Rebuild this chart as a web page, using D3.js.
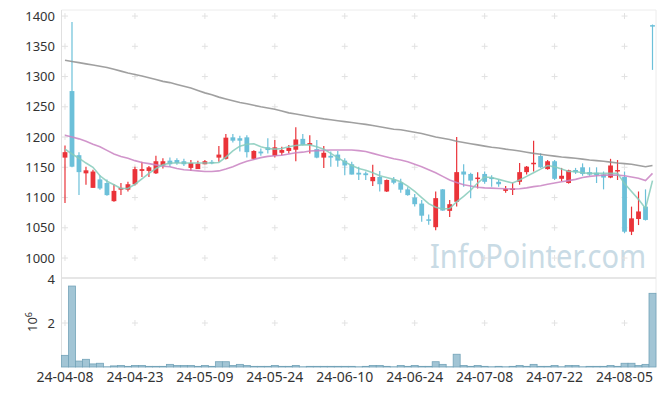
<!DOCTYPE html>
<html>
<head>
    <meta charset="utf-8">
    <title></title>
    <style type="text/css">
        html, body { margin: 0; padding: 0; background: #fff; }
        text { font-family: "Noto Sans", sans-serif; }
    </style>
</head>
<body>
<svg id="svg" width="665" height="396"></svg>

<script src="https://cdn.jsdelivr.net/npm/d3@7"></script>
<script type="text/javascript">
    var dates = ('24-04-08 24-04-09 24-04-11 24-04-12 24-04-15 24-04-16 24-04-17 24-04-18 24-04-19 24-04-22 ' +
        '24-04-23 24-04-24 24-04-25 24-04-26 24-04-29 24-04-30 24-05-02 24-05-03 24-05-07 24-05-08 ' +
        '24-05-09 24-05-10 24-05-13 24-05-14 24-05-16 24-05-17 24-05-20 24-05-21 24-05-22 24-05-23 ' +
        '24-05-24 24-05-27 24-05-28 24-05-29 24-05-30 24-05-31 24-06-03 24-06-04 24-06-05 24-06-07 ' +
        '24-06-10 24-06-11 24-06-12 24-06-13 24-06-14 24-06-17 24-06-18 24-06-19 24-06-20 24-06-21 ' +
        '24-06-24 24-06-25 24-06-26 24-06-27 24-06-28 24-07-01 24-07-02 24-07-03 24-07-04 24-07-05 ' +
        '24-07-08 24-07-09 24-07-10 24-07-11 24-07-12 24-07-15 24-07-16 24-07-17 24-07-18 24-07-19 ' +
        '24-07-22 24-07-23 24-07-24 24-07-25 24-07-26 24-07-29 24-07-30 24-07-31 24-08-01 24-08-02 ' +
        '24-08-05 24-08-06 24-08-07 24-08-08 24-08-09').split(' ');

    var opens = [1166, 1276, 1170, 1140, 1116, 1130, 1124, 1094, 1113, 1113,
        1122, 1144, 1144, 1140, 1153, 1161, 1162, 1160, 1149, 1147,
        1155, 1159, 1166, 1164, 1199.5, 1198, 1199.5, 1164, 1176, 1183,
        1169, 1174, 1177, 1179, 1197, 1187, 1180, 1166, 1169, 1171,
        1161, 1155, 1141, 1140, 1127, 1134, 1110, 1130, 1125, 1113.5,
        1100, 1090, 1064, 1051, 1113.5, 1078, 1093, 1143, 1139, 1131,
        1139, 1133, 1126, 1111, 1113.5, 1126, 1142, 1155, 1168.6, 1147,
        1160, 1131, 1124, 1145.5, 1150, 1142, 1141, 1138, 1133, 1144,
        1134, 1043.5, 1064.5, 1085, 1385];
    var highs = [1186, 1390, 1175, 1151, 1146, 1137, 1130, 1122, 1124, 1126,
        1151, 1159, 1152, 1169, 1165, 1166, 1165, 1164, 1162, 1161,
        1162, 1162, 1185, 1205, 1205, 1202, 1203, 1178, 1181, 1198,
        1195, 1184, 1187, 1216, 1205, 1203, 1195, 1185, 1176, 1177,
        1165, 1159, 1151, 1143, 1154, 1144, 1130, 1134, 1131, 1117,
        1106, 1096, 1072, 1110, 1114, 1096, 1200, 1155, 1141, 1142,
        1143, 1137, 1130, 1119, 1124.5, 1157, 1152, 1194, 1173, 1162,
        1162, 1149, 1146, 1149, 1156.5, 1150, 1150, 1143, 1164, 1162,
        1143, 1085, 1110, 1113.5, 1386];
    var lows = [1091, 1150, 1104, 1121, 1116, 1113, 1103, 1093, 1104, 1110,
        1120, 1134, 1134, 1139, 1148, 1151, 1154, 1152, 1144, 1147,
        1155, 1155, 1159, 1163, 1191, 1176, 1166, 1163, 1169, 1173,
        1166, 1170, 1173, 1160, 1186, 1173, 1165, 1149, 1151, 1151,
        1137, 1138, 1129, 1129, 1119, 1110, 1109, 1122, 1108, 1103,
        1085, 1060, 1055, 1046, 1078, 1068, 1085, 1118, 1099, 1115,
        1123, 1118, 1118, 1108, 1104, 1121, 1138, 1143, 1149, 1146,
        1129, 1127, 1123, 1139, 1136, 1136, 1124, 1113.5, 1132, 1129,
        1041, 1038, 1054.5, 1062, 1311];
    var closes = [1175, 1151, 1142, 1145, 1143, 1115, 1104, 1111, 1116, 1122,
        1147, 1147, 1150, 1160, 1160, 1155, 1157, 1155, 1157, 1156,
        1160, 1157.5, 1171, 1199, 1194, 1194, 1175, 1177, 1173, 1178.5,
        1183, 1178.5, 1182, 1196, 1187, 1190, 1166, 1174, 1166, 1161,
        1153, 1138, 1138, 1137, 1134, 1122, 1129, 1124.5, 1113, 1104,
        1089, 1070, 1062, 1099, 1078.5, 1089, 1142, 1138, 1128, 1133,
        1126, 1132, 1122, 1114, 1115, 1142, 1151, 1157.5, 1150, 1160,
        1131, 1136, 1145, 1141.6, 1139, 1138, 1137, 1133, 1153, 1145.5,
        1043.5, 1065.6, 1077, 1063, 1384];

    var ma5 = [1180, 1172, 1165, 1157, 1150, 1136, 1127, 1121, 1115, 1115,
        1122, 1131, 1140, 1148, 1154, 1157, 1157, 1157, 1157, 1157,
        1157, 1157, 1158, 1167, 1177, 1185, 1188, 1189, 1184, 1181,
        1180, 1181, 1184, 1186, 1187, 1187, 1184, 1180, 1173, 1166,
        1159, 1153, 1148, 1145, 1141, 1136, 1133, 1130, 1126, 1119,
        1110, 1100, 1090, 1084, 1081, 1082, 1093, 1102, 1112, 1124,
        1134, 1133, 1130, 1127, 1124, 1129, 1135, 1141, 1147, 1153,
        1151, 1147, 1143, 1143, 1141, 1140, 1140, 1140, 1140, 1140,
        1123, 1110, 1097, 1082, 1128];
    var ma20 = [1203, 1200, 1197, 1193, 1188, 1184, 1178, 1172, 1168, 1165,
        1161, 1158, 1156, 1154, 1152, 1151, 1148, 1146, 1145, 1144,
        1143, 1143, 1144, 1147, 1151, 1156, 1160, 1163, 1166, 1168,
        1169, 1170, 1172, 1174, 1175, 1177, 1177.5, 1178, 1178.5, 1178.5,
        1178.5, 1178.5, 1177.5, 1176, 1173, 1170, 1167, 1164, 1162, 1159,
        1155, 1151, 1146, 1141, 1135, 1129, 1125, 1121, 1119, 1117,
        1116, 1115.5, 1115, 1114.5, 1114, 1114.5, 1116, 1118, 1119.5, 1122,
        1124, 1126, 1128, 1130, 1133, 1135, 1136, 1137, 1137, 1137,
        1136, 1134, 1132, 1128, 1140];
    var ma120 = [1327, 1325, 1323, 1321, 1319, 1317, 1315, 1312, 1309, 1306,
        1303.5, 1301, 1298, 1295, 1292, 1290, 1287, 1284, 1281, 1277,
        1273, 1270, 1266, 1263, 1260, 1257, 1255, 1252.5, 1250, 1248,
        1246, 1243, 1240, 1238, 1236, 1234, 1232, 1230, 1228.5, 1227,
        1225.5, 1224, 1222.5, 1221, 1219, 1217, 1215, 1213, 1212, 1210,
        1208, 1206, 1203, 1200, 1198, 1196, 1193, 1191, 1189, 1187,
        1185, 1183, 1182, 1180, 1178.5, 1177, 1175, 1173, 1171.5, 1170,
        1168.5, 1167, 1166, 1165, 1163.5, 1162, 1161, 1160, 1158.5, 1157,
        1156, 1155, 1153, 1151, 1153];

    // volume in millions
    var volume = [0.53, 3.68, 0.27, 0.35, 0.14, 0.17, 0.01, 0.05, 0.07, 0.03,
        0.07, 0.07, 0.03, 0.03, 0.03, 0.12, 0.07, 0.07, 0.07, 0.03,
        0.07, 0.03, 0.24, 0.24, 0.07, 0.12, 0.07, 0.03, 0.03, 0.03,
        0.07, 0.03, 0.03, 0.07, 0.01, 0.03, 0.03, 0.03, 0.03, 0.03,
        0.03, 0.03, 0.01, 0.03, 0.07, 0.07, 0.03, 0.01, 0.07, 0.03,
        0.07, 0.03, 0.03, 0.24, 0.12, 0.01, 0.58, 0.07, 0.03, 0.07,
        0.03, 0.01, 0.03, 0.01, 0.03, 0.07, 0.03, 0.12, 0.03, 0.03,
        0.07, 0.01, 0.07, 0.07, 0.01, 0.03, 0.03, 0.03, 0.07, 0.03,
        0.17, 0.17, 0.07, 0.12, 3.35];

    var xTicks = ['24-04-08', '24-04-23', '24-05-09', '24-05-24', '24-06-10', '24-06-24', '24-07-08', '24-07-22', '24-08-05'];
    var priceTicks = [1000, 1050, 1100, 1150, 1200, 1250, 1300, 1350, 1400];
    var volTicks = [2, 4];

    var svg = d3.select('#svg');
    var padL = 61.5, padR = 656, padT = 10, midY = 278, padB = 367;

    var x = d3.scaleBand().domain(dates).range([padL, padR]).padding(0);
    var y = d3.scaleLinear().domain([967, 1410]).range([midY, padT]);
    var yv = d3.scaleLinear().domain([0, 4]).range([padB, midY + 1]);
    var bw = x.bandwidth();
    var cx = function (d) { return x(d) + bw / 2; };

    var data = dates.map(function (d, i) {
        return {date: d, o: opens[i], h: highs[i], l: lows[i], c: closes[i], v: volume[i]};
    });

    var gridCol = '#e2e2e2';

    // frame
    svg.append('path')
        .attr('d', 'M' + padL + ',' + padT + 'H' + padR + 'V' + padB)
        .attr('fill', 'none').attr('stroke', '#ececec');
    svg.append('line')
        .attr('x1', padL).attr('x2', padR).attr('y1', midY).attr('y2', midY)
        .attr('stroke', '#e6e6e6').attr('stroke-width', 2);
    svg.append('line')
        .attr('x1', padL).attr('x2', padL).attr('y1', padT).attr('y2', padB)
        .attr('stroke', '#e0e0e0');

    // watermark
    svg.append('text')
        .attr('x', 430).attr('y', 268)
        .attr('font-size', 33)
        .attr('textLength', 216)
        .attr('lengthAdjust', 'spacingAndGlyphs')
        .attr('fill', '#c9dbe5')
        .text('InfoPointer.com');

    // plus-shaped grid marks
    var gx = xTicks.map(function (t) { return cx(t); });
    var marks = [];
    gx.forEach(function (px) {
        priceTicks.forEach(function (p) { marks.push([px, y(p)]); });
        marks.push([px, yv(2)]);
    });
    svg.append('g').selectAll('path')
        .data(marks)
        .enter()
        .append('path')
        .attr('d', function (d) { return 'M' + (d[0] - 3) + ',' + d[1] + 'h6M' + d[0] + ',' + (d[1] - 3) + 'v6'; })
        .attr('stroke', gridCol).attr('stroke-width', 1);

    // volume bars
    svg.append('g').selectAll('rect')
        .data(data)
        .enter()
        .append('rect')
        .attr('x', function (d) { return x(d.date); })
        .attr('width', bw)
        .attr('y', function (d) { return yv(d.v); })
        .attr('height', function (d) { return padB - yv(d.v); })
        .attr('fill', '#a2c5d5')
        .attr('stroke', '#73a3b8')
        .attr('stroke-width', 0.8);

    // candles
    var up = '#ea3339', down = '#6cc0d9';
    var g = svg.append('g').selectAll('g')
        .data(data)
        .enter()
        .append('g');
    g.append('line')
        .attr('x1', function (d) { return cx(d.date); })
        .attr('x2', function (d) { return cx(d.date); })
        .attr('y1', function (d) { return y(d.h); })
        .attr('y2', function (d) { return y(d.l); })
        .attr('stroke', function (d) { return d.c >= d.o ? up : down; })
        .attr('stroke-width', 1.2);
    g.append('rect')
        .attr('x', function (d) { return cx(d.date) - 2.4; })
        .attr('width', 4.8)
        .attr('y', function (d) { return y(Math.max(d.o, d.c)); })
        .attr('height', function (d) { return Math.max(1.5, Math.abs(y(d.o) - y(d.c))); })
        .attr('fill', function (d) { return d.c >= d.o ? up : down; });

    // moving averages
    var line = d3.line()
        .x(function (d, i) { return cx(dates[i]); })
        .y(function (d) { return y(d); });
    [[ma120, '#8f8f8f'], [ma20, '#c982c2'], [ma5, '#86cbbb']].forEach(function (s) {
        svg.append('path')
            .attr('d', line(s[0]))
            .attr('fill', 'none')
            .attr('stroke', s[1])
            .attr('stroke-opacity', 0.85)
            .attr('stroke-width', 1.6);
    });

    // axes labels
    svg.append('g').selectAll('text')
        .data(priceTicks)
        .enter()
        .append('text')
        .attr('x', 55)
        .attr('y', function (d) { return y(d); })
        .attr('dy', '0.35em')
        .attr('text-anchor', 'end')
        .attr('font-size', 13)
        .attr('fill', '#333')
        .text(function (d) { return d; });
    svg.append('g').selectAll('text')
        .data(volTicks)
        .enter()
        .append('text')
        .attr('x', 55)
        .attr('y', function (d) { return yv(d); })
        .attr('dy', '0.35em')
        .attr('text-anchor', 'end')
        .attr('font-size', 13)
        .attr('fill', '#333')
        .text(function (d) { return d; });

    var exp = svg.append('text')
        .attr('transform', 'translate(37,322) rotate(-90)')
        .attr('text-anchor', 'middle')
        .attr('font-size', 13)
        .attr('fill', '#333');
    exp.append('tspan').text('10');
    exp.append('tspan').attr('dy', -5).attr('font-size', 9).text('6');

    svg.append('g').selectAll('text')
        .data(xTicks)
        .enter()
        .append('text')
        .attr('x', function (d) { return cx(d); })
        .attr('y', 382)
        .attr('text-anchor', 'middle')
        .attr('font-size', 14)
        .attr('fill', '#333')
        .text(function (d) { return d; });
</script>
</body>
</html>
